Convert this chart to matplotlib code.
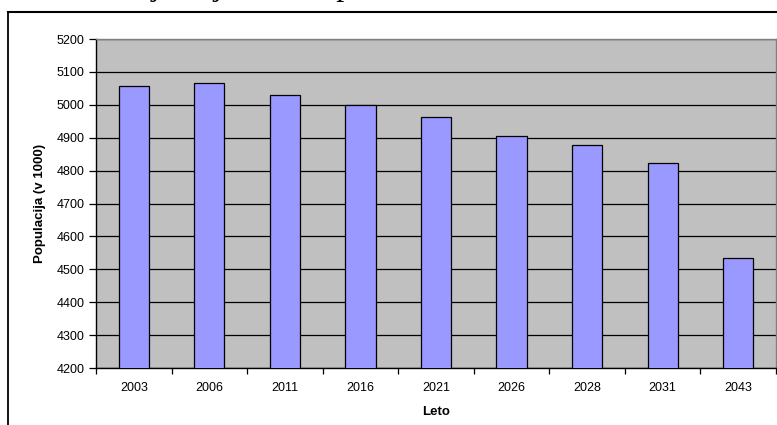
import matplotlib
matplotlib.use("Agg")
import matplotlib.pyplot as plt
from matplotlib.lines import Line2D
import numpy as np

years = ["2003", "2006", "2011", "2016", "2021", "2026", "2028", "2031", "2043"]
population = [5057, 5067, 5031, 5000, 4962, 4905, 4877, 4823, 4533]

title_text = "Projekcija števila prebivalcev"
y_label = "Populacija (v 1000)"
x_label = "Leto"

plt.rcParams['font.family'] = ['Liberation Sans', 'DejaVu Sans']

W, H = 777, 425
fig = plt.figure(figsize=(W / 100, H / 100), dpi=100)

# outer chart frame (left + top only visible)
fig.add_artist(Line2D([8 / W, 8 / W], [0, 1 - 11.5 / H], color="black", lw=1.3))
fig.add_artist(Line2D([8 / W, 1.0], [1 - 11.5 / H, 1 - 11.5 / H], color="black", lw=1.5))

# title, cut off by the top edge, only descenders show
fig.text(107 / W, 1 + 5.5 / H, title_text, family=['Liberation Serif', 'DejaVu Serif'],
         fontsize=23, va='baseline', ha='left')

ax = fig.add_axes([96 / W, 1 - 368 / H, 680 / W, 329 / H])
ax.set_facecolor("#C0C0C0")

x = np.arange(len(years))
ax.bar(x, population, width=0.4, color="#9999FF", edgecolor="black",
       linewidth=0.9, zorder=3)

ax.set_xlim(-0.5, len(years) - 0.5)
ax.set_ylim(4200, 5200)
ax.set_yticks(np.arange(4200, 5201, 100))
ax.yaxis.grid(True, color="black", linewidth=0.9)
ax.set_axisbelow(True)

ax.set_xticks(x)
ax.set_xticklabels(years)
ax.set_xticks(np.arange(-0.5, len(years), 1), minor=True)
ax.tick_params(axis='x', which='major', length=0, pad=10, labelsize=9)
ax.tick_params(axis='x', which='minor', length=4, width=0.9, color="black")
ax.tick_params(axis='y', which='major', length=5, width=0.9, labelsize=9, pad=3)

for side in ("left", "bottom"):
    ax.spines[side].set_color("black")
    ax.spines[side].set_linewidth(1.0)
for side in ("top", "right"):
    ax.spines[side].set_color("#808080")
    ax.spines[side].set_linewidth(1.0)

ax.set_ylabel(y_label, fontsize=9.5, fontweight='bold', labelpad=8)
ax.set_xlabel(x_label, fontsize=9.5, fontweight='bold', labelpad=9)

fig.savefig("out.png", dpi=100)
